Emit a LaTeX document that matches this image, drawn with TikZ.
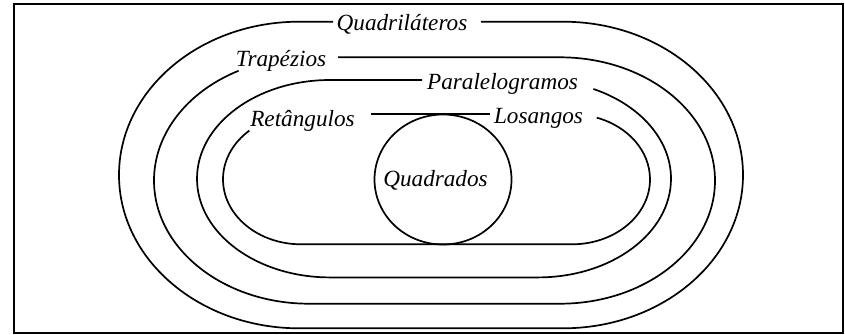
\documentclass[tikz,border=0pt]{standalone}
\usepackage{fontspec}
\setmainfont{Liberation Serif}
\begin{document}
\begin{tikzpicture}[x=0.5pt,y=0.5pt,
		setname/.style={font=\fontsize{11.6}{13}\selectfont\itshape, inner sep=1pt, anchor=base},
		outline/.style={line width=0.85pt, black}]
		\useasboundingbox (0,0) rectangle (845,334);
		% frame
		\draw[line width=1pt] (14,1) rectangle (843,330);
		
		% names of the sets
		\node[setname] (quad) at (402,303.5) {Quadriláteros};
		\node[setname] (trap) at (281,268) {Trapézios};
		\node[setname] (para) at (502.5,245) {Paralelogramos};
		\node[setname] (ret) at (302.5,208) {Retângulos};
		\node[setname] (los) at (538.5,210.5) {Losangos};
		\node[setname] (qdr) at (435.5,147.3) {Quadrados};
		
		% Quadrilateros
		\draw[outline] (481,312.3) -- (563,312.3)
		arc[start angle=90, end angle=-90, x radius=180, y radius=153.3] -- (299,5.7)
		arc[start angle=270, end angle=90, x radius=180, y radius=153.3] -- (333,312.3);
		
		% Trapezios
		\draw[outline] (338,276.7) -- (560,276.7)
		arc[start angle=90, end angle=-90, x radius=155, y radius=123.2] -- (309,30.3)
		arc[start angle=270, end angle=117, x radius=155, y radius=123.2];
		
		% Paralelogramos
		\draw[outline] (422,254) -- (330,254)
		arc[start angle=90, end angle=270, x radius=133, y radius=98.7] -- (538,56.6)
		arc[start angle=-90, end angle=65.4, x radius=133, y radius=98.7];
		
		% Retangulos and Losangos
		\draw[outline] (371,219.7) -- (490,219.7);
		\draw[outline] ([shift={(131.5:78 and 65)}]301,154.7)
		arc[start angle=131.5, end angle=270, x radius=78, y radius=65] -- (572,89.7)
		arc[start angle=-90, end angle=71.5, x radius=78, y radius=65];
		
		% Quadrados
		\draw[outline] (443,154.5) ellipse[x radius=68.5, y radius=65];
	\end{tikzpicture}
\end{document}
